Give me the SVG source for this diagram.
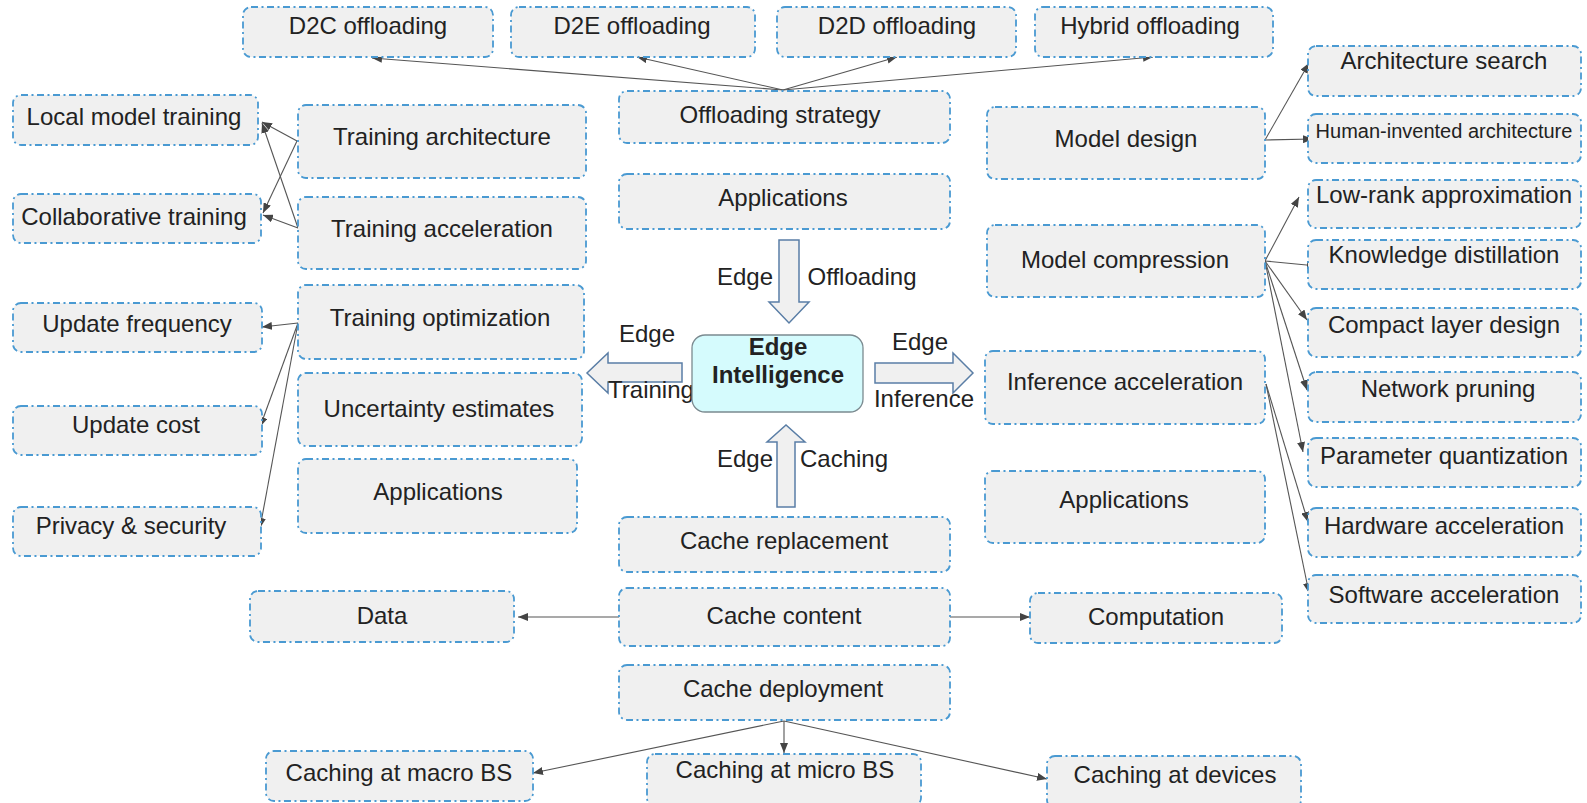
<svg xmlns="http://www.w3.org/2000/svg" width="1587" height="803" viewBox="0 0 1587 803">
<style>
.n rect{fill:#f0f0f0;stroke:#4a9ad2;stroke-width:1.8;stroke-dasharray:7 3.5 2 3.5}
text{font-family:"Liberation Sans",Arial,Helvetica,sans-serif;font-size:24px;fill:#222;text-anchor:middle}
.s{font-size:20px}
.b{font-weight:bold}
.c line{stroke:#555;stroke-width:1.1;marker-end:url(#ah)}
.blk{fill:#f0f0f0;stroke:#5a7ea6;stroke-width:1.5}
</style>
<defs>
<marker id="ah" markerUnits="userSpaceOnUse" markerWidth="10" markerHeight="8" refX="10" refY="4" orient="auto">
<path d="M0,0 L10,4 L0,8 z" fill="#444"/>
</marker>
</defs>
<rect width="1587" height="803" fill="#fff"/>

<g id="connectors" class="c">
<line x1="783" y1="90" x2="372" y2="58"/>
<line x1="783" y1="90" x2="637" y2="57"/>
<line x1="783" y1="90" x2="897" y2="57"/>
<line x1="783" y1="90" x2="1153" y2="57"/>
<line x1="297" y1="141" x2="262" y2="122"/>
<line x1="297" y1="141" x2="263" y2="213"/>
<line x1="298" y1="228" x2="262" y2="123"/>
<line x1="298" y1="228" x2="263" y2="215"/>
<line x1="298" y1="323" x2="262" y2="327"/>
<line x1="298" y1="323" x2="260" y2="427"/>
<line x1="298" y1="323" x2="260" y2="528"/>
<line x1="1265" y1="140" x2="1309" y2="63"/>
<line x1="1265" y1="140" x2="1313" y2="139"/>
<line x1="1265" y1="261" x2="1299" y2="197"/>
<line x1="1265" y1="261" x2="1317" y2="266"/>
<line x1="1265" y1="261" x2="1307" y2="320"/>
<line x1="1265" y1="261" x2="1307" y2="390"/>
<line x1="1265" y1="261" x2="1303" y2="452"/>
<line x1="1266" y1="384" x2="1308" y2="522"/>
<line x1="1266" y1="384" x2="1309" y2="593"/>
<line x1="619" y1="617" x2="518" y2="617"/>
<line x1="950" y1="617" x2="1030" y2="617"/>
<line x1="784" y1="721" x2="533" y2="773"/>
<line x1="784" y1="721" x2="784" y2="753"/>
<line x1="784" y1="721" x2="1047" y2="779"/>
</g>

<g id="d2c" class="n"><rect x="243" y="7" width="250" height="50" rx="8"/><text x="368" y="34">D2C offloading</text></g>
<g id="d2e" class="n"><rect x="511" y="7" width="244" height="50" rx="8"/><text x="632" y="34">D2E offloading</text></g>
<g id="d2d" class="n"><rect x="777" y="7" width="239" height="50" rx="8"/><text x="897" y="34">D2D offloading</text></g>
<g id="hybrid" class="n"><rect x="1035" y="7" width="238" height="50" rx="8"/><text x="1150" y="34">Hybrid offloading</text></g>

<g id="offloading-strategy" class="n"><rect x="619" y="91" width="331" height="52" rx="8"/><text x="780" y="123">Offloading strategy</text></g>
<g id="applications-top" class="n"><rect x="619" y="174" width="331" height="55" rx="8"/><text x="783" y="206">Applications</text></g>

<g id="local-model-training" class="n"><rect x="13" y="95" width="245" height="50" rx="8"/><text x="134" y="125">Local model training</text></g>
<g id="collaborative-training" class="n"><rect x="13" y="194" width="248" height="49" rx="8"/><text x="134" y="225">Collaborative training</text></g>
<g id="training-architecture" class="n"><rect x="298" y="105" width="288" height="73" rx="8"/><text x="442" y="145">Training architecture</text></g>
<g id="training-acceleration" class="n"><rect x="298" y="197" width="288" height="72" rx="8"/><text x="442" y="237">Training acceleration</text></g>
<g id="training-optimization" class="n"><rect x="298" y="285" width="286" height="74" rx="8"/><text x="440" y="326">Training optimization</text></g>
<g id="uncertainty-estimates" class="n"><rect x="298" y="373" width="284" height="73" rx="8"/><text x="439" y="417">Uncertainty estimates</text></g>
<g id="applications-left" class="n"><rect x="298" y="459" width="279" height="74" rx="8"/><text x="438" y="500">Applications</text></g>
<g id="update-frequency" class="n"><rect x="13" y="303" width="249" height="49" rx="8"/><text x="137" y="332">Update frequency</text></g>
<g id="update-cost" class="n"><rect x="13" y="406" width="249" height="49" rx="8"/><text x="136" y="433">Update cost</text></g>
<g id="privacy-security" class="n"><rect x="13" y="507" width="248" height="49" rx="8"/><text x="131" y="534">Privacy &amp; security</text></g>

<g id="model-design" class="n"><rect x="987" y="107" width="278" height="72" rx="8"/><text x="1126" y="147">Model design</text></g>
<g id="model-compression" class="n"><rect x="987" y="225" width="278" height="72" rx="8"/><text x="1125" y="268">Model compression</text></g>
<g id="inference-acceleration" class="n"><rect x="985" y="351" width="280" height="73" rx="8"/><text x="1125" y="390">Inference acceleration</text></g>
<g id="applications-right" class="n"><rect x="985" y="471" width="280" height="72" rx="8"/><text x="1124" y="508">Applications</text></g>

<g id="architecture-search" class="n"><rect x="1308" y="46" width="273" height="50" rx="8"/><text x="1444" y="69">Architecture search</text></g>
<g id="human-invented" class="n"><rect x="1308" y="114" width="273" height="49" rx="8"/><text class="s" x="1444" y="138">Human-invented architecture</text></g>
<g id="low-rank" class="n"><rect x="1308" y="180" width="273" height="48" rx="8"/><text x="1444" y="203">Low-rank approximation</text></g>
<g id="knowledge-distillation" class="n"><rect x="1308" y="240" width="273" height="49" rx="8"/><text x="1444" y="263">Knowledge distillation</text></g>
<g id="compact-layer" class="n"><rect x="1308" y="308" width="273" height="49" rx="8"/><text x="1444" y="333">Compact layer design</text></g>
<g id="network-pruning" class="n"><rect x="1308" y="372" width="273" height="50" rx="8"/><text x="1448" y="397">Network pruning</text></g>
<g id="parameter-quantization" class="n"><rect x="1308" y="438" width="273" height="49" rx="8"/><text x="1444" y="464">Parameter quantization</text></g>
<g id="hardware-acceleration" class="n"><rect x="1308" y="508" width="273" height="49" rx="8"/><text x="1444" y="534">Hardware acceleration</text></g>
<g id="software-acceleration" class="n"><rect x="1308" y="575" width="273" height="48" rx="8"/><text x="1444" y="603">Software acceleration</text></g>

<g id="cache-replacement" class="n"><rect x="619" y="517" width="331" height="55" rx="8"/><text x="784" y="549">Cache replacement</text></g>
<g id="cache-content" class="n"><rect x="619" y="588" width="331" height="58" rx="8"/><text x="784" y="624">Cache content</text></g>
<g id="cache-deployment" class="n"><rect x="619" y="665" width="331" height="55" rx="8"/><text x="783" y="697">Cache deployment</text></g>
<g id="data" class="n"><rect x="250" y="591" width="264" height="51" rx="8"/><text x="382" y="624">Data</text></g>
<g id="computation" class="n"><rect x="1030" y="593" width="252" height="50" rx="8"/><text x="1156" y="625">Computation</text></g>
<g id="macro-bs" class="n"><rect x="266" y="751" width="267" height="50" rx="8"/><text x="399" y="781">Caching at macro BS</text></g>
<g id="micro-bs" class="n"><rect x="647" y="754" width="274" height="52" rx="8"/><text x="785" y="778">Caching at micro BS</text></g>
<g id="devices" class="n"><rect x="1047" y="756" width="254" height="52" rx="8"/><text x="1175" y="783">Caching at devices</text></g>

<g id="edge-offloading">
<polygon class="blk" points="779,240 799,240 799,302 809,302 789,323 769,302 779,302"/>
<text x="745" y="285">Edge</text><text x="862" y="285">Offloading</text>
</g>
<g id="edge-caching">
<polygon class="blk" points="777,507 795,507 795,442 805,442 786,425 767,442 777,442"/>
<text x="745" y="467">Edge</text><text x="844" y="467">Caching</text>
</g>
<g id="edge-training">
<polygon class="blk" points="682,363 682,382 608,382 608,393 587,373 608,353 608,363"/>
<text x="647" y="342">Edge</text><text x="651" y="398">Training</text>
</g>
<g id="edge-inference">
<polygon class="blk" points="875,363 953,363 953,353 973,373 953,393 953,383 875,383"/>
<text x="920" y="350">Edge</text><text x="924" y="407">Inference</text>
</g>

<g id="edge-intelligence">
<rect x="692" y="335" width="171" height="77" rx="13" fill="#d5fbfd" stroke="#7b8a90" stroke-width="1.3"/>
<text class="b" x="778" y="355">Edge</text>
<text class="b" x="778" y="383">Intelligence</text>
</g>
</svg>
